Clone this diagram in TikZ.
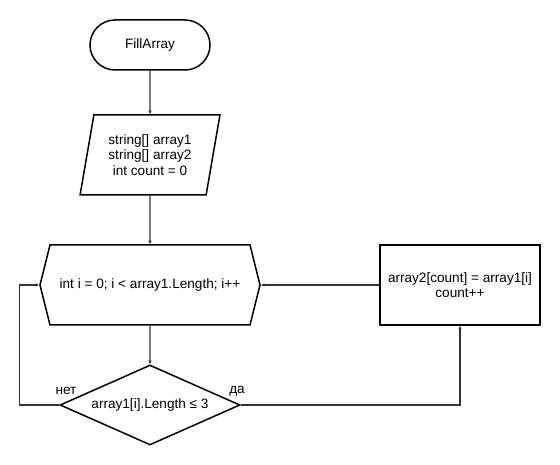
\documentclass[tikz,border=0pt]{standalone}
\usepackage{fontspec}
\setmainfont{Liberation Sans}
\usepackage{tikz}
\usetikzlibrary{arrows.meta,shapes.geometric,shapes.symbols,shapes.misc}

\tikzset{
    block/.style = {draw=black, line width=1.5pt, align=center, inner sep=0pt,
        font=\fontsize{13.6}{15.5}\selectfont},
    link/.style = {draw=black!80, line width=1.4pt, -{Latex[length=3.5pt,width=3.5pt]}},
    answer/.style = {font=\fontsize{13.6}{15.5}\selectfont}
}

\begin{document}
\begin{tikzpicture}[x=1pt, y=-1pt, >=Stealth]

    %% Background
    \useasboundingbox (0,0) rectangle (560,465);

    % Start
    \node[block, rounded rectangle, minimum width=120pt, minimum height=50pt]
    (start) at (150,45) {FillArray};

    % Input
    \node[block, trapezium, trapezium left angle=76, trapezium right angle=104,
        trapezium stretches=true, minimum width=140pt, minimum height=80pt]
    (input) at (150,155) {string[] array1\\string[] array2\\int count = 0};

    % Loop
    \node[block, signal, signal to=west and east, signal pointer angle=152,
        minimum width=220pt, minimum height=80pt]
    (loop) at (150,285) {int i = 0; i < array1.Length; i++};

    % Condition
    \node[block, diamond, aspect=2.25, minimum width=180pt, minimum height=80pt]
    (check) at (150,405) {array1[i].Length ≤ 3};

    % Copy
    \node[block, rectangle, minimum width=160pt, minimum height=80pt]
    (copy) at (460,285) {array2[count] = array1[i]\\count++};

    %Links
    \draw[link] (start) -- (input);
    \draw[link] (input) -- (loop);
    \draw[link] (loop) -- (check);
    \draw[link] (check.west) -- ++(-40,0) |- (loop.west);
    \draw[link] (check.east) -| (copy.south);
    \draw[link] (copy.west) -- (loop.east);

    \draw
    (66,391) node[answer]{нет}
    (237,391) node[answer]{да}
    ;

\end{tikzpicture}
\end{document}
